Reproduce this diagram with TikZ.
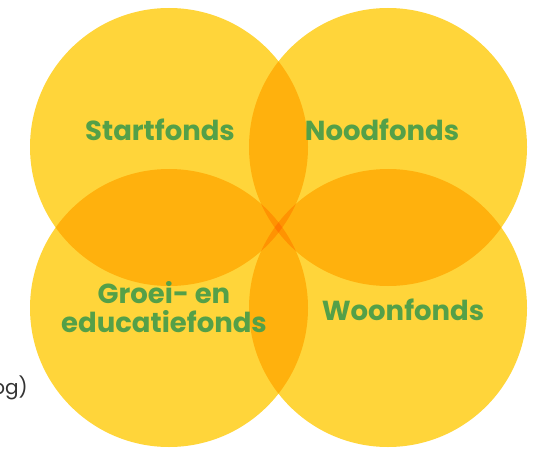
\documentclass[tikz,border=0pt]{standalone}
\usepackage{fontspec}
\setmainfont{Poppins}
\definecolor{fondsYellow}{RGB}{255,213,58}
\definecolor{fondsGreen}{RGB}{84,160,72}
\definecolor{restGray}{RGB}{51,51,51}

\begin{document}
\begin{tikzpicture}
[x=1pt,y=-1pt,
  circleDecorate/.style={shape=circle,minimum size=278pt,inner sep=0pt,fill=fondsYellow},
  labelDecorate/.style={text=fondsGreen,font=\bfseries\fontsize{27.5}{29}\selectfont,align=center,inner sep=0pt}]
\useasboundingbox (0,0) rectangle (540,449);
%% circles, multiplied where they overlap
\begin{scope}[blend group=multiply]
\foreach \nodename/\x/\y in {
  start/169/147,
  nood/388/147,
  groei/169/308,
  woon/388/308}
{
  \node (\nodename) at (\x,\y) [circleDecorate] {};
}
\end{scope}
%% labels
\node (startLabel) at (160,130) [labelDecorate] {Startfonds};
\node (noodLabel) at (382,130) [labelDecorate] {Noodfonds};
\node (groeiLabel) at (164,307) [labelDecorate] {Groei- en\\educatiefonds};
\node (woonLabel) at (403,310) [labelDecorate] {Woonfonds};
%% cut-off text at the left
\node (restText) at (28,388) [anchor=east,inner sep=0pt,text=restGray,font=\fontsize{20}{24}\selectfont] {og)};
\end{tikzpicture}
\end{document}
